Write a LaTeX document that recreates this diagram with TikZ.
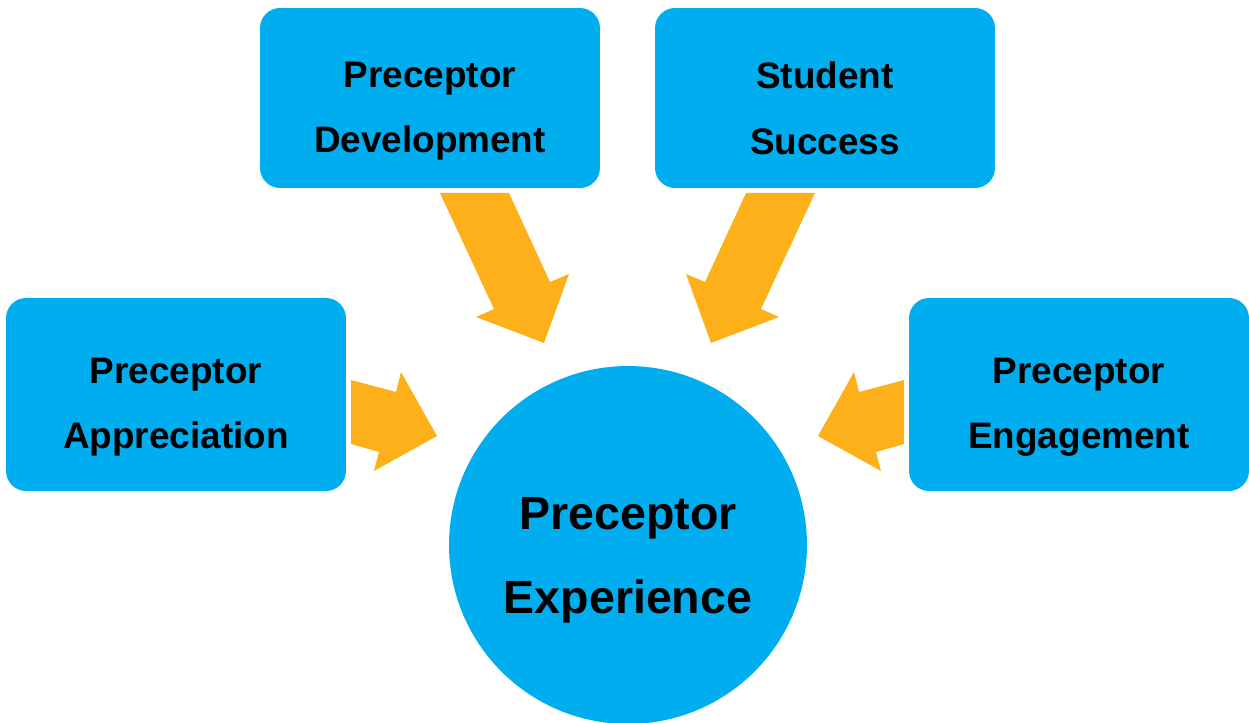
\documentclass[tikz,border=0pt]{standalone}
\usepackage{fontspec}
\setmainfont{Liberation Sans}
\usepackage{tikz}
\usetikzlibrary{positioning}
\definecolor{boxblue}{RGB}{0,174,239}
\definecolor{arroworange}{RGB}{253,176,26}
\tikzset{
	box/.style={fill=boxblue,rounded corners=0.4cm,minimum width=6.8cm,inner sep=0pt},
	boxtext/.style={align=center,inner sep=0pt,font=\fontsize{21}{37.3}\selectfont\bfseries},
	bigtext/.style={align=center,inner sep=0pt,font=\fontsize{26.5}{47.8}\selectfont\bfseries},
	blockarrow/.style={fill=arroworange}
}

\begin{document}
\begin{tikzpicture}[x=0.02cm,y=-0.02cm]
				\useasboundingbox (0,0) rectangle (1249,723);

				\node[box,minimum height=3.6cm](dev) at (430,98) {};
				\node[box,minimum height=3.6cm](succ) at (825,98) {};
				\node[box,minimum height=3.86cm](appr) at (176,394.5) {};
				\node[box,minimum height=3.86cm](eng) at (1079,394.5) {};
				\node[circle,fill=boxblue,minimum size=7.16cm,inner sep=0pt](exp) at (628,545) {};

				\node[boxtext,below=1.08cm of dev.north](devtext) {Preceptor\\Development};
				\node[boxtext,below=1.08cm of succ.north](succtext) {Student\\Success};
				\node[boxtext,below=1.2cm of appr.north](apprtext) {Preceptor\\Appreciation};
				\node[boxtext,below=1.2cm of eng.north](engtext) {Preceptor\\Engagement};
				\node[bigtext,below=2.62cm of exp.north](exptext) {Preceptor\\Experience};

				% block arrows pointing at the circle
				\fill[blockarrow] (440,193) -- (509,193) -- (550,282) -- (569,274) -- (544,343) -- (476,317) -- (494,309) -- cycle;
				\fill[blockarrow] (815,193) -- (746,193) -- (705,282) -- (686,274) -- (711,343) -- (779,317) -- (761,309) -- cycle;
				\fill[blockarrow] (351,380) -- (396,392) -- (401,372) -- (437,436) -- (374,471) -- (379,452) -- (351,444) -- cycle;
				\fill[blockarrow] (904,380) -- (859,392) -- (854,372) -- (818,436) -- (881,471) -- (876,452) -- (904,444) -- cycle;
\end{tikzpicture}
\end{document}
